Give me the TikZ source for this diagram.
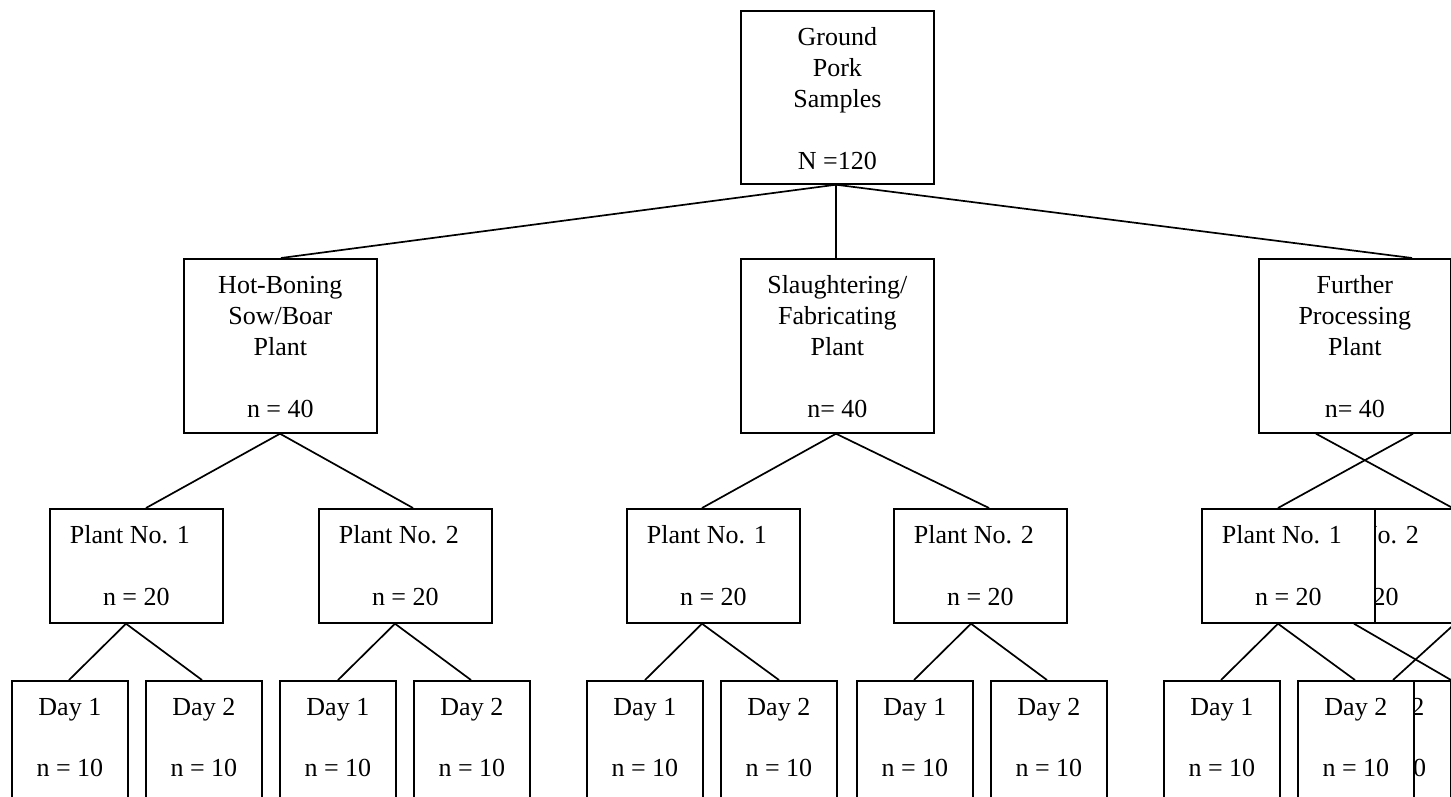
\documentclass[tikz,border=0pt]{standalone}
\usepackage{fontspec}
\setmainfont{Liberation Serif}
\usetikzlibrary{calc}
\newcommand{\firststrut}{\rule{0pt}{24pt}}
\begin{document}
\begin{tikzpicture}[x=1pt,y=-1pt,
  box/.style={draw, fill=white, line width=1.7pt, inner sep=0pt, anchor=north west},
  bigbox/.style={box, minimum width=193pt, minimum height=174pt},
  midbox/.style={box, minimum width=173pt, minimum height=114pt},
  daybox/.style={box, minimum width=116pt, minimum height=130pt},
  txt/.style={inner sep=0pt, align=center, anchor=north, font=\fontsize{26}{31}\selectfont},
  conn/.style={line width=1.7pt}]
\path[use as bounding box] (0,0) rectangle (1451,796);
\clip (0,0) rectangle (1451,796);

% ---------- level 1
\node[bigbox, minimum height=173pt] (top) at (740,10) {};
\node[txt] (top-t) at ($(top.north)+(0,11)$) {\firststrut Ground\\Pork\\Samples\\[31pt]N =120};

% ---------- level 2
\node[bigbox] (hb) at (183,258) {};
\node[txt] (hb-t) at ($(hb.north)+(0,11)$) {\firststrut Hot-Boning\\Sow/Boar\\Plant\\[31pt]n = 40};
\node[bigbox] (sf) at (740,258) {};
\node[txt] (sf-t) at ($(sf.north)+(0,11)$) {\firststrut Slaughtering/\\Fabricating\\Plant\\[31pt]n= 40};
\node[bigbox, minimum width=192pt] (fp) at (1258,258) {};
\node[txt] (fp-t) at ($(fp.north)+(0,11)$) {\firststrut Further\\Processing\\Plant\\[31pt]n= 40};

% ---------- level 3
\node[midbox] (hb1) at (49,508) {};
\node[txt] (hb1-t) at ($(hb1.north)+(0,11)$) {\firststrut Plant No. 1\hspace*{13pt}\\[31pt]n = 20};
\node[midbox] (hb2) at (318,508) {};
\node[txt] (hb2-t) at ($(hb2.north)+(0,11)$) {\firststrut Plant No. 2\hspace*{13pt}\\[31pt]n = 20};
\node[midbox] (sf1) at (626,508) {};
\node[txt] (sf1-t) at ($(sf1.north)+(0,11)$) {\firststrut Plant No. 1\hspace*{13pt}\\[31pt]n = 20};
\node[midbox] (sf2) at (893,508) {};
\node[txt] (sf2-t) at ($(sf2.north)+(0,11)$) {\firststrut Plant No. 2\hspace*{13pt}\\[31pt]n = 20};
\node[midbox] (fp2) at (1278,508) {};
\node[txt] (fp2-t) at ($(fp2.north)+(0,11)$) {\firststrut Plant No. 2\hspace*{13pt}\\[31pt]n = 20};
\node[midbox] (fp1) at (1201,508) {};
\node[txt] (fp1-t) at ($(fp1.north)+(0,11)$) {\firststrut Plant No. 1\hspace*{13pt}\\[31pt]n = 20};

% ---------- level 4
\node[daybox] (hb1a) at (11,680) {};
\node[txt] (hb1a-t) at ($(hb1a.north)+(0,11)$) {\firststrut Day 1\\[30pt]n = 10};
\node[daybox] (hb1b) at (145,680) {};
\node[txt] (hb1b-t) at ($(hb1b.north)+(0,11)$) {\firststrut Day 2\\[30pt]n = 10};
\node[daybox] (hb2a) at (279,680) {};
\node[txt] (hb2a-t) at ($(hb2a.north)+(0,11)$) {\firststrut Day 1\\[30pt]n = 10};
\node[daybox] (hb2b) at (413,680) {};
\node[txt] (hb2b-t) at ($(hb2b.north)+(0,11)$) {\firststrut Day 2\\[30pt]n = 10};
\node[daybox] (sf1a) at (586,680) {};
\node[txt] (sf1a-t) at ($(sf1a.north)+(0,11)$) {\firststrut Day 1\\[30pt]n = 10};
\node[daybox] (sf1b) at (720,680) {};
\node[txt] (sf1b-t) at ($(sf1b.north)+(0,11)$) {\firststrut Day 2\\[30pt]n = 10};
\node[daybox] (sf2a) at (856,680) {};
\node[txt] (sf2a-t) at ($(sf2a.north)+(0,11)$) {\firststrut Day 1\\[30pt]n = 10};
\node[daybox] (sf2b) at (990,680) {};
\node[txt] (sf2b-t) at ($(sf2b.north)+(0,11)$) {\firststrut Day 2\\[30pt]n = 10};
\node[daybox] (fp2b) at (1334,680) {};
\node[txt] (fp2b-t) at ($(fp2b.north)+(0,11)$) {\firststrut Day 2\\[30pt]n = 10};
\node[daybox] (fp1a) at (1163,680) {};
\node[txt] (fp1a-t) at ($(fp1a.north)+(0,11)$) {\firststrut Day 1\\[30pt]n = 10};
\node[daybox] (fp1b) at (1297,680) {};
\node[txt] (fp1b-t) at ($(fp1b.north)+(0,11)$) {\firststrut Day 2\\[30pt]n = 10};

% ---------- connectors
\draw[conn] ($(top.south west)+(96,0)$) -- ($(hb.north west)+(98,0)$);
\draw[conn] ($(top.south west)+(96,0)$) -- ($(sf.north west)+(96,0)$);
\draw[conn] ($(top.south west)+(96,0)$) -- ($(fp.north west)+(154,0)$);

\draw[conn] ($(hb.south west)+(97,0)$) -- ($(hb1.north west)+(97,0)$);
\draw[conn] ($(hb.south west)+(97,0)$) -- ($(hb2.north west)+(95,0)$);
\draw[conn] ($(sf.south west)+(96,0)$) -- ($(sf1.north west)+(76,0)$);
\draw[conn] ($(sf.south west)+(96,0)$) -- ($(sf2.north west)+(96,0)$);
\draw[conn] ($(fp.south west)+(58,0)$) -- (fp2.north east);
\draw[conn] ($(fp.south west)+(155,0)$) -- ($(fp1.north west)+(77,0)$);

\draw[conn] ($(hb1.south west)+(77,0)$) -- ($(hb1a.north west)+(58,0)$);
\draw[conn] ($(hb1.south west)+(77,0)$) -- ($(hb1b.north west)+(57,0)$);
\draw[conn] ($(hb2.south west)+(77,0)$) -- ($(hb2a.north west)+(59,0)$);
\draw[conn] ($(hb2.south west)+(77,0)$) -- ($(hb2b.north west)+(58,0)$);
\draw[conn] ($(sf1.south west)+(76,0)$) -- ($(sf1a.north west)+(59,0)$);
\draw[conn] ($(sf1.south west)+(76,0)$) -- ($(sf1b.north west)+(59,0)$);
\draw[conn] ($(sf2.south west)+(78,0)$) -- ($(sf2a.north west)+(58,0)$);
\draw[conn] ($(sf2.south west)+(78,0)$) -- ($(sf2b.north west)+(57,0)$);
\draw[conn] ($(fp1.south west)+(77,0)$) -- ($(fp1a.north west)+(58,0)$);
\draw[conn] ($(fp1.south west)+(77,0)$) -- ($(fp1b.north west)+(58,0)$);
\draw[conn] ($(fp1.south west)+(153,0)$) -- ($(fp2b.north west)+(117,0)$);
\draw[conn] ($(fp2.south east)+(0,2)$) -- ($(fp1b.north west)+(96,0)$);
\end{tikzpicture}
\end{document}
